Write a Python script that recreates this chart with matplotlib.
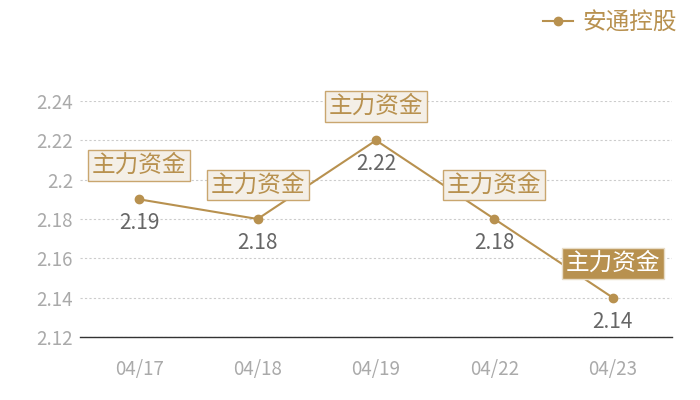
import matplotlib
matplotlib.use("Agg")
import matplotlib.pyplot as plt
from matplotlib.lines import Line2D

plt.rcParams['font.family'] = ['Noto Sans CJK SC', 'DejaVu Sans']

dates = ["04/17", "04/18", "04/19", "04/22", "04/23"]
prices = [2.19, 2.18, 2.22, 2.18, 2.14]
tag_text = "主力资金"
highlight = [False, False, False, False, True]
series_name = "安通控股"
yticks = [2.12, 2.14, 2.16, 2.18, 2.2, 2.22, 2.24]
ytick_labels = ["2.12", "2.14", "2.16", "2.18", "2.2", "2.22", "2.24"]

gold = "#b8914f"
fig = plt.figure(figsize=(7, 4), dpi=100)
ax = fig.add_axes([80/700, 63/400, 592/700, 236/400])

x = list(range(len(dates)))
ax.plot(x, prices, color=gold, lw=1.5, marker='o', ms=6, zorder=3)

ax.set_xlim(-0.5, len(dates) - 0.5)
ax.set_ylim(2.12, 2.24)
ax.set_yticks(yticks)
ax.set_yticklabels(ytick_labels)
ax.set_xticks(x)
ax.set_xticklabels(dates)
ax.tick_params(axis='both', length=0, colors='#aaaaaa', labelsize=13.5)
ax.tick_params(axis='x', pad=16)
ax.tick_params(axis='y', pad=5)
ax.grid(axis='y', linestyle=(0, (2, 2)), color='#cccccc', lw=0.8)
for s in ['top', 'right', 'left']:
    ax.spines[s].set_visible(False)
ax.spines['bottom'].set_color('#333333')
ax.spines['bottom'].set_linewidth(1)
ax.set_axisbelow(True)

for xi, p, hl in zip(x, prices, highlight):
    ax.annotate(f"{p:.2f}", (xi, p), xytext=(0, -24), textcoords='offset pixels',
                ha='center', va='center', fontsize=15, color='#666666', zorder=4)
    if hl:
        bbox = dict(boxstyle='square,pad=0.16', fc=gold, ec='#e8dcc6', lw=1)
        tc = 'white'
    else:
        bbox = dict(boxstyle='square,pad=0.16', fc='#f4efe7', ec='#c9a66f', lw=1)
        tc = gold
    ax.annotate(tag_text, (xi, p), xytext=(0, 34), textcoords='offset pixels',
                ha='center', va='center', fontsize=17, color=tc, bbox=bbox, zorder=5)

handle = Line2D([], [], color=gold, lw=1.5, marker='o', ms=6)
fig.legend([handle], [series_name], loc='upper right', bbox_to_anchor=(0.998, 1.025),
           frameon=False, fontsize=17, labelcolor=gold, handlelength=1.3,
           handletextpad=0.4)

fig.savefig("out.png", dpi=100)
